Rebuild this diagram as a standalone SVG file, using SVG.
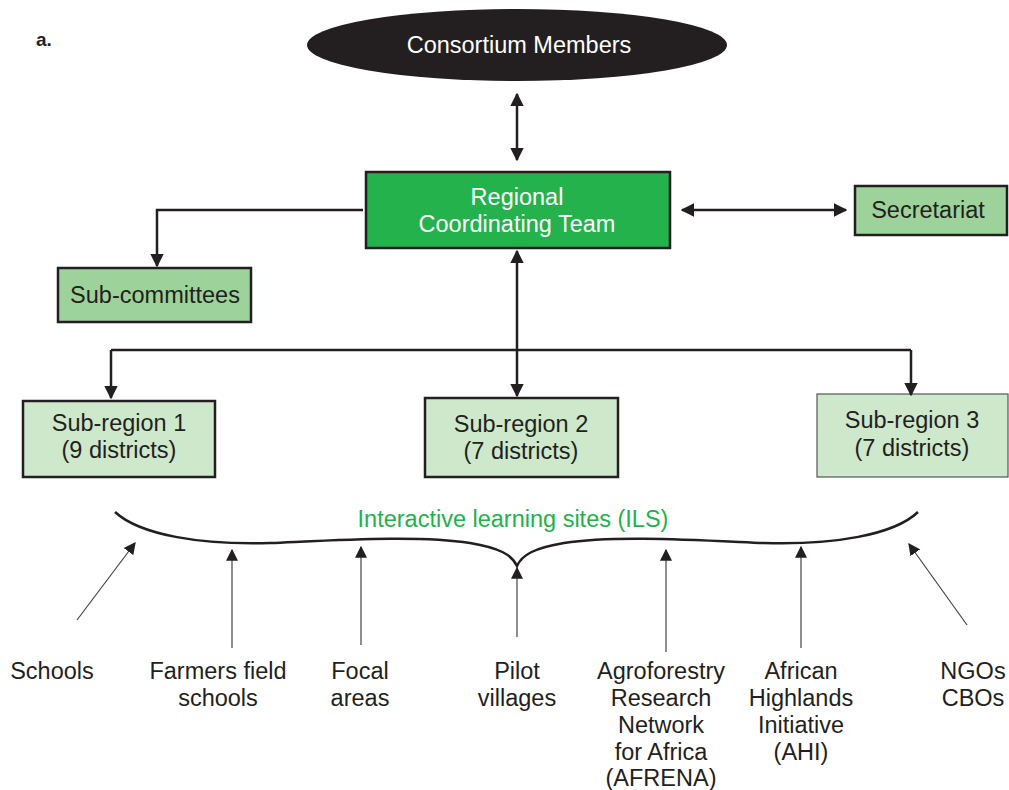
<svg xmlns="http://www.w3.org/2000/svg" width="1009" height="790" viewBox="0 0 1009 790">
<defs>
<style>
text{font-family:"Liberation Sans",Arial,sans-serif;font-size:23.5px;text-anchor:middle;fill:#231f20}
.w{fill:#fff}
.g{fill:#22b14c}
.box{stroke:#231f20;stroke-width:2.5}
.c{stroke:#231f20;stroke-width:2.5;fill:none}
.t{stroke:#444;stroke-width:1.2;fill:none}
</style>
<marker id="ah" viewBox="0 0 10 10" refX="9" refY="5" markerWidth="5.5" markerHeight="5.5" orient="auto-start-reverse" markerUnits="strokeWidth"><path d="M0,0 L10,5 L0,10 z" fill="#231f20"/></marker>
<marker id="ahs" viewBox="0 0 10 10" refX="9" refY="5" markerWidth="10" markerHeight="11" orient="auto" markerUnits="strokeWidth"><path d="M0,0 L10,5 L0,10 z" fill="#231f20"/></marker>
</defs>
<text x="36" y="46" style="font-weight:bold;font-size:19px;text-anchor:start">a.</text>
<g id="consortium"><ellipse cx="517" cy="45" rx="210" ry="36" fill="#231f20"/><text class="w" x="519" y="53">Consortium Members</text></g>
<g id="rct"><rect class="box" x="366" y="172" width="304" height="76" fill="#23b24c"/><text class="w" x="517" y="205">Regional</text><text class="w" x="517" y="232">Coordinating Team</text></g>
<g id="secretariat"><rect class="box" x="855" y="186" width="152" height="49" fill="#9dd39b"/><text x="928" y="218">Secretariat</text></g>
<g id="subcommittees"><rect class="box" x="58" y="268" width="193" height="54" fill="#9dd39b"/><text x="155" y="303">Sub-committees</text></g>
<g id="sub1"><rect class="box" x="23" y="401" width="192" height="76" fill="#cde8cb"/><text x="119" y="431">Sub-region 1</text><text x="119" y="458">(9 districts)</text></g>
<g id="sub2"><rect class="box" x="425" y="398" width="193" height="79" fill="#cde8cb"/><text x="521" y="432">Sub-region 2</text><text x="521" y="459">(7 districts)</text></g>
<g id="sub3"><rect x="817" y="394" width="191" height="83" fill="#cde8cb" stroke="#555" stroke-width="1.2"/><text x="912" y="428">Sub-region 3</text><text x="912" y="456">(7 districts)</text></g>
<g id="ils"><text class="g" x="513" y="527">Interactive learning sites (ILS)</text>
<path class="c" d="M115,512 C140,535 200,545 270,543 C340,540 420,535 470,543 C500,548 512,555 517,566 C522,555 534,548 564,543 C614,535 694,540 764,543 C834,545 894,535 918,512"/></g>
<g id="connectors">
<path class="c" d="M517,94 V160" marker-start="url(#ah)" marker-end="url(#ah)"/>
<path class="c" d="M682,210 H846" marker-start="url(#ah)" marker-end="url(#ah)"/>
<path class="c" d="M363,210 H157 V266" marker-end="url(#ah)"/>
<path class="c" d="M517,251 V396" marker-start="url(#ah)" marker-end="url(#ah)"/>
<path class="c" d="M111,350 H911"/>
<path class="c" d="M111,350 V398" marker-end="url(#ah)"/>
<path class="c" d="M911,350 V395" marker-end="url(#ah)"/>
<path class="t" d="M77,620 L135,543" marker-end="url(#ahs)"/>
<path class="t" d="M232,648 V550" marker-end="url(#ahs)"/>
<path class="t" d="M361,645 V547" marker-end="url(#ahs)"/>
<path class="t" d="M517,637 V568" marker-end="url(#ahs)"/>
<path class="t" d="M666,652 V550" marker-end="url(#ahs)"/>
<path class="t" d="M801,648 V547" marker-end="url(#ahs)"/>
<path class="t" d="M967,625 L909,544" marker-end="url(#ahs)"/>
</g>
<g id="labels">
<text x="52" y="679">Schools</text>
<text x="218" y="679">Farmers field</text><text x="218" y="706">schools</text>
<text x="360" y="679">Focal</text><text x="360" y="706">areas</text>
<text x="517" y="679">Pilot</text><text x="517" y="706">villages</text>
<text x="661" y="679">Agroforestry</text><text x="661" y="706">Research</text><text x="661" y="733">Network</text><text x="661" y="760">for Africa</text><text x="661" y="786">(AFRENA)</text>
<text x="801" y="679">African</text><text x="801" y="706">Highlands</text><text x="801" y="733">Initiative</text><text x="801" y="760">(AHI)</text>
<text x="973" y="679">NGOs</text><text x="973" y="706">CBOs</text>
</g>
</svg>
